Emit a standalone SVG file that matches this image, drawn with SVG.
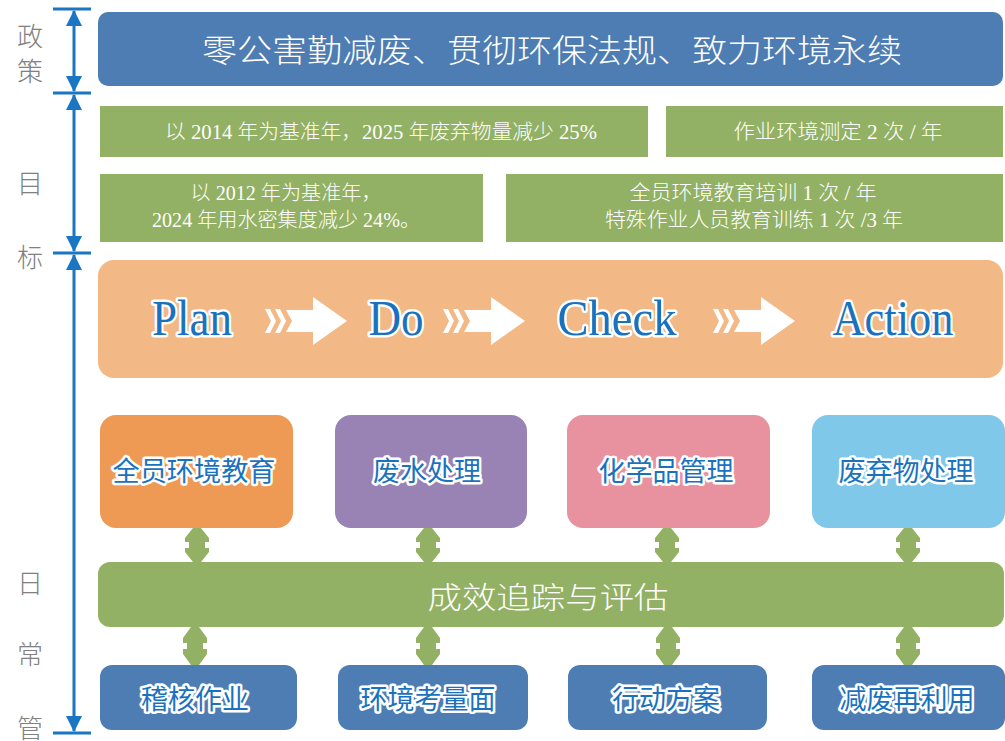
<svg xmlns="http://www.w3.org/2000/svg" width="1005" height="741" viewBox="0 0 1005 741">
<style>
.side{font-family:"Noto Sans CJK SC","Liberation Sans",sans-serif;font-weight:300;font-size:26px;fill:#808080;text-anchor:middle}
.wt{font-family:"Liberation Serif","Noto Sans CJK SC",serif;font-weight:300;fill:#ffffff;text-anchor:middle}
.cn{font-family:"Noto Sans CJK SC",sans-serif;font-weight:300;fill:#ffffff;text-anchor:middle}
.lbl{font-family:"Noto Sans CJK SC",sans-serif;font-weight:400;font-size:27px;fill:#1a72bf;stroke:#ffffff;stroke-width:5;stroke-linejoin:round;paint-order:stroke fill;text-anchor:middle}
.pdca{font-family:"Liberation Serif",serif;font-size:50px;fill:#1a72bf;stroke:#ffffff;stroke-width:5;stroke-linejoin:round;paint-order:stroke fill;text-anchor:middle}
.ax{stroke:#1a75c2;stroke-width:3;fill:none}
.tick{stroke:#1a75c2;stroke-width:3}
.ga{fill:#93b164}
</style>
<defs>
<marker id="ah" viewBox="0 0 16 18" refX="15" refY="8" markerWidth="16" markerHeight="18" markerUnits="userSpaceOnUse" orient="auto-start-reverse">
<path d="M0,0 L16,8 L0,16 Z" fill="#1a75c2"/>
</marker>
<path id="dbl" d="M-4,0 L4,0 L12,10 L12,14 L8,14 L8,20 L12,20 L12,24 L4,34 L-4,34 L-12,24 L-12,20 L-8,20 L-8,14 L-12,14 L-12,10 Z"/>
<path id="dbl2" d="M-4,0 L4,0 L12,11 L12,16 L8,16 L8,22 L12,22 L12,27 L4,38 L-4,38 L-12,27 L-12,22 L-8,22 L-8,16 L-12,16 L-12,11 Z"/>
<g id="flow" fill="#ffffff">
<polygon points="0,-12 5,-12 11,0 5,12 0,12 6,0"/>
<polygon points="10,-12 15,-12 21,0 15,12 10,12 16,0"/>
<polygon points="21,-11 48,-11 48,-24 82,0 48,24 48,11 21,11 27,0"/>
</g>
</defs>

<g id="axis">
<line class="tick" x1="53" y1="9" x2="91" y2="9"/>
<line class="tick" x1="53" y1="93" x2="91" y2="93"/>
<line class="tick" x1="53" y1="253" x2="91" y2="253"/>
<line class="tick" x1="53" y1="733" x2="91" y2="733"/>
<line class="ax" x1="74" y1="11" x2="74" y2="91" marker-start="url(#ah)" marker-end="url(#ah)"/>
<line class="ax" x1="74" y1="95" x2="74" y2="251" marker-start="url(#ah)" marker-end="url(#ah)"/>
<line class="ax" x1="74" y1="255" x2="74" y2="731" marker-start="url(#ah)" marker-end="url(#ah)"/>
<text class="side" x="30" y="46">政</text>
<text class="side" x="30" y="81">策</text>
<text class="side" x="30" y="193">目</text>
<text class="side" x="30" y="267">标</text>
<text class="side" x="30" y="593">日</text>
<text class="side" x="30" y="664">常</text>
<text class="side" x="30" y="738">管</text>
</g>

<g id="policy">
<rect x="98" y="12" width="905" height="74" rx="10" fill="#4e7db3"/>
<text class="cn" x="552" y="62" font-size="32" textLength="700" lengthAdjust="spacingAndGlyphs">零公害勤减废、贯彻环保法规、致力环境永续</text>
</g>

<g id="goal1">
<rect x="100" y="106" width="548" height="51" fill="#93b164"/>
<text class="wt" x="381" y="139" font-size="20" textLength="432" lengthAdjust="spacingAndGlyphs">以 2014 年为基准年，2025 年废弃物量减少 25%</text>
</g>
<g id="goal2">
<rect x="666" y="106" width="337" height="51" fill="#93b164"/>
<text class="wt" x="838" y="139" font-size="20" textLength="209" lengthAdjust="spacingAndGlyphs">作业环境测定 2 次 / 年</text>
</g>
<g id="goal3">
<rect x="100" y="174" width="383" height="68" fill="#93b164"/>
<text class="wt" x="286" y="200" font-size="20" textLength="191" lengthAdjust="spacingAndGlyphs">以 2012 年为基准年，</text>
<text class="wt" x="286" y="227" font-size="20" textLength="268" lengthAdjust="spacingAndGlyphs">2024 年用水密集度减少 24%。</text>
</g>
<g id="goal4">
<rect x="506" y="174" width="497" height="68" fill="#93b164"/>
<text class="wt" x="753" y="200" font-size="20" textLength="247" lengthAdjust="spacingAndGlyphs">全员环境教育培训 1 次 / 年</text>
<text class="wt" x="754" y="227" font-size="20" textLength="298" lengthAdjust="spacingAndGlyphs">特殊作业人员教育训练 1 次 /3 年</text>
</g>

<g id="pdca">
<rect x="98" y="260" width="905" height="118" rx="16" fill="#f2b886"/>
<text class="pdca" x="192" y="335" textLength="80" lengthAdjust="spacingAndGlyphs">Plan</text>
<use href="#flow" transform="translate(265,321)"/>
<text class="pdca" x="396" y="335" textLength="55" lengthAdjust="spacingAndGlyphs">Do</text>
<use href="#flow" transform="translate(443,321)"/>
<text class="pdca" x="617" y="335" textLength="119" lengthAdjust="spacingAndGlyphs">Check</text>
<use href="#flow" transform="translate(713,321)"/>
<text class="pdca" x="893" y="335" textLength="121" lengthAdjust="spacingAndGlyphs">Action</text>
</g>

<g id="edu">
<rect x="100" y="415" width="193" height="113" rx="16" fill="#ee9a54"/>
<text class="lbl" x="194" y="481" textLength="163" lengthAdjust="spacingAndGlyphs">全员环境教育</text>
</g>
<g id="water">
<rect x="335" y="415" width="192" height="113" rx="16" fill="#9982b4"/>
<text class="lbl" x="427" y="481">废水处理</text>
</g>
<g id="chem">
<rect x="567" y="415" width="203" height="113" rx="16" fill="#e8919f"/>
<text class="lbl" x="666" y="481">化学品管理</text>
</g>
<g id="waste">
<rect x="812" y="415" width="193" height="113" rx="16" fill="#7fc8ea"/>
<text class="lbl" x="906" y="481">废弃物处理</text>
</g>

<g id="track">
<rect x="98" y="562" width="906" height="65" rx="12" fill="#93b164"/>
<text class="cn" x="548" y="608" font-size="30" textLength="241" lengthAdjust="spacingAndGlyphs">成效追踪与评估</text>
</g>

<g id="audit">
<rect x="100" y="665" width="197" height="65" rx="12" fill="#4e7db3"/>
<text class="lbl" x="195" y="709">稽核作业</text>
</g>
<g id="aspect">
<rect x="338" y="665" width="190" height="65" rx="12" fill="#4e7db3"/>
<text class="lbl" x="428" y="709">环境考量面</text>
</g>
<g id="plan">
<rect x="568" y="665" width="199" height="65" rx="12" fill="#4e7db3"/>
<text class="lbl" x="666" y="709">行动方案</text>
</g>
<g id="reuse">
<rect x="812" y="665" width="193" height="65" rx="12" fill="#4e7db3"/>
<text class="lbl" x="907" y="709">减废再利用</text>
</g>

<g id="connectors" class="ga">
<use href="#dbl" transform="translate(197,528)"/>
<use href="#dbl" transform="translate(428,528)"/>
<use href="#dbl" transform="translate(667,528)"/>
<use href="#dbl" transform="translate(908,528)"/>
<use href="#dbl2" transform="translate(195,627)"/>
<use href="#dbl2" transform="translate(428,627)"/>
<use href="#dbl2" transform="translate(668,627)"/>
<use href="#dbl2" transform="translate(908,627)"/>
</g>
</svg>
